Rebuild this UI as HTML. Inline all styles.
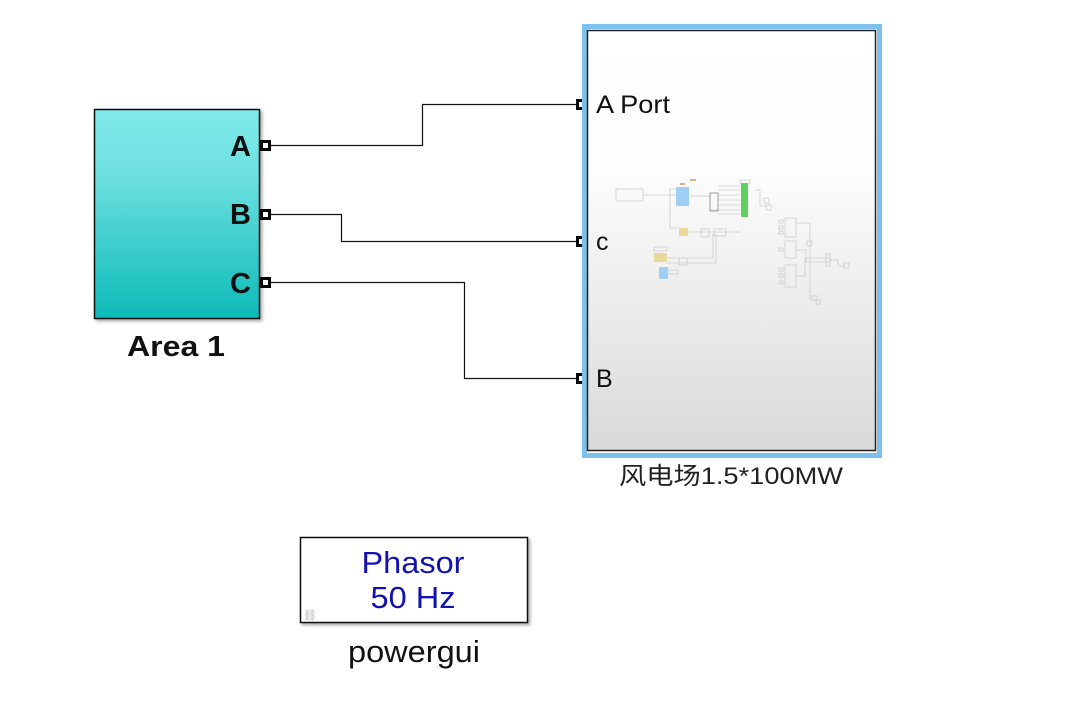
<!DOCTYPE html>
<html><head><meta charset="utf-8"><style>
html,body{margin:0;padding:0;background:#fff;}
body{width:1090px;height:716px;position:relative;overflow:hidden;font-family:"Liberation Sans","Noto Sans CJK SC",sans-serif;}
</style></head><body>
<svg width="1090" height="716" xmlns="http://www.w3.org/2000/svg" style="position:absolute;left:0;top:0">
<defs>
<linearGradient id="cy" x1="0" y1="0" x2="0" y2="1">
<stop offset="0" stop-color="#80eaea"/><stop offset="0.3" stop-color="#6ee0e0"/><stop offset="1" stop-color="#0cbab8"/>
</linearGradient>
<linearGradient id="gr" x1="0" y1="0" x2="0" y2="1">
<stop offset="0" stop-color="#ffffff"/><stop offset="0.33" stop-color="#fdfdfd"/><stop offset="1" stop-color="#d9d9d9"/>
</linearGradient>
<filter id="sh" x="-10%" y="-10%" width="130%" height="130%"><feDropShadow dx="2" dy="2" stdDeviation="1.5" flood-color="#000" flood-opacity="0.35"/></filter>
</defs>
<!-- Area 1 -->
<rect x="94.5" y="109.5" width="165" height="209" fill="url(#cy)" stroke="#111" stroke-width="1.5" filter="url(#sh)"/>
<g font-weight="bold" font-size="29" fill="#111" text-anchor="end">
<text x="251" y="156">A</text><text x="251" y="224">B</text><text x="251" y="293">C</text>
</g>
<text x="176" y="356" font-size="29" font-weight="bold" text-anchor="middle" fill="#111" textLength="98" lengthAdjust="spacingAndGlyphs">Area 1</text>
<!-- wires -->
<g fill="none" stroke="#111" stroke-width="1.2">
<polyline points="270,145.5 422.5,145.5 422.5,104.5 577,104.5"/>
<polyline points="270,214.5 341.5,214.5 341.5,241.5 577,241.5"/>
<polyline points="270,282.5 464.5,282.5 464.5,378.5 577,378.5"/>
</g>
<!-- ports -->
<g fill="#fff" stroke="#000" stroke-width="3">
<rect x="261.5" y="141.5" width="8" height="8"/><rect x="261.5" y="210.5" width="8" height="8"/><rect x="261.5" y="278.5" width="8" height="8"/>
<rect x="577.5" y="100.5" width="7" height="8"/><rect x="577.5" y="237.5" width="7" height="8"/><rect x="577.5" y="374.5" width="7" height="8"/>
</g>
<!-- subsystem -->
<rect x="584.5" y="26.5" width="295" height="429" fill="none" stroke="#7cc0ec" stroke-width="5"/>
<rect x="587.5" y="30.5" width="288" height="420" fill="url(#gr)" stroke="#222" stroke-width="1.5"/>
<g font-size="25" fill="#111">
<text x="596" y="113" textLength="74" lengthAdjust="spacingAndGlyphs">A Port</text><text x="596" y="250">c</text><text x="596" y="387">B</text>
</g>
<text x="731" y="484" font-size="24" text-anchor="middle" fill="#222" textLength="224" lengthAdjust="spacingAndGlyphs">风电场1.5*100MW</text>
<!-- thumbnail -->
<g fill="none" stroke="#ccc" stroke-width="0.8">
<rect x="616" y="189" width="27" height="12"/>
<line x1="643" y1="195" x2="676" y2="195"/>
<polyline points="676,189 670,189 670,228 679,228"/>
<polyline points="690,196 710,196 710,210 720,210"/>
<rect x="710" y="193" width="8" height="18" stroke="#888"/>
<line x1="718" y1="186" x2="740" y2="186"/><line x1="718" y1="190" x2="740" y2="190"/><line x1="718" y1="195" x2="740" y2="195"/><line x1="718" y1="200" x2="740" y2="200"/><line x1="718" y1="205" x2="740" y2="205"/><line x1="718" y1="210" x2="740" y2="210"/><line x1="718" y1="214" x2="740" y2="214"/>
<rect x="701" y="229" width="8" height="8"/><rect x="714" y="229" width="12" height="7"/>
<line x1="688" y1="232" x2="740" y2="232"/>
<polyline points="667,258 713,258 713,234"/><polyline points="667,263 716,263 716,234"/>
<rect x="679" y="258" width="8" height="7"/>
<rect x="785" y="218" width="11" height="19"/><rect x="785" y="241" width="11" height="17"/><rect x="785" y="265" width="11" height="22"/>
<rect x="779" y="220" width="4" height="3"/><rect x="779" y="226" width="4" height="3"/><rect x="779" y="231" width="4" height="3"/>
<rect x="779" y="248" width="4" height="3"/><rect x="779" y="268" width="4" height="3"/><rect x="779" y="274" width="4" height="3"/><rect x="779" y="281" width="4" height="3"/>
<polyline points="796,223 810,223 810,300"/><polyline points="796,250 806,250 806,262 830,262"/>
<polyline points="796,276 805,276 805,258 830,258"/>
<rect x="807" y="241" width="5" height="5"/><rect x="826" y="254" width="4" height="12"/>
<polyline points="830,260 838,260 838,266 845,266"/><rect x="844" y="263" width="5" height="5"/>
<rect x="812" y="296" width="5" height="4"/><rect x="816" y="300" width="4" height="4"/>
<polyline points="755,190 760,190 760,206 766,206"/><rect x="764" y="198" width="5" height="5"/><rect x="766" y="205" width="5" height="5"/>
<rect x="740" y="180" width="10" height="4"/>
<rect x="654" y="247" width="13" height="4"/><rect x="668" y="270" width="10" height="4"/>
</g>
<rect x="676" y="187" width="13" height="19" fill="#9ecff5"/>
<rect x="741" y="183" width="7" height="34" fill="#5fd060"/>
<rect x="679" y="228" width="9" height="8" fill="#e8d89a"/>
<rect x="654" y="253" width="13" height="9" fill="#e8d89a"/>
<rect x="659" y="267" width="9" height="12" fill="#9ecff5"/>
<rect x="680" y="183" width="5" height="2" fill="#e0b080"/><rect x="690" y="179" width="6" height="2" fill="#e0b080"/>
<!-- powergui -->
<rect x="300.5" y="537.5" width="227" height="85" fill="#fff" stroke="#111" stroke-width="1.5" filter="url(#sh)"/>
<text x="413" y="573" font-size="31" fill="#1212b0" text-anchor="middle" textLength="103" lengthAdjust="spacingAndGlyphs">Phasor</text>
<text x="413" y="608" font-size="31" fill="#1212b0" text-anchor="middle" textLength="85" lengthAdjust="spacingAndGlyphs">50 Hz</text>
<text x="303" y="619" font-size="11" fill="#aaa">⛓</text>
<text x="414" y="662" font-size="31" fill="#111" text-anchor="middle" textLength="132" lengthAdjust="spacingAndGlyphs">powergui</text>
</svg>
</body></html>
